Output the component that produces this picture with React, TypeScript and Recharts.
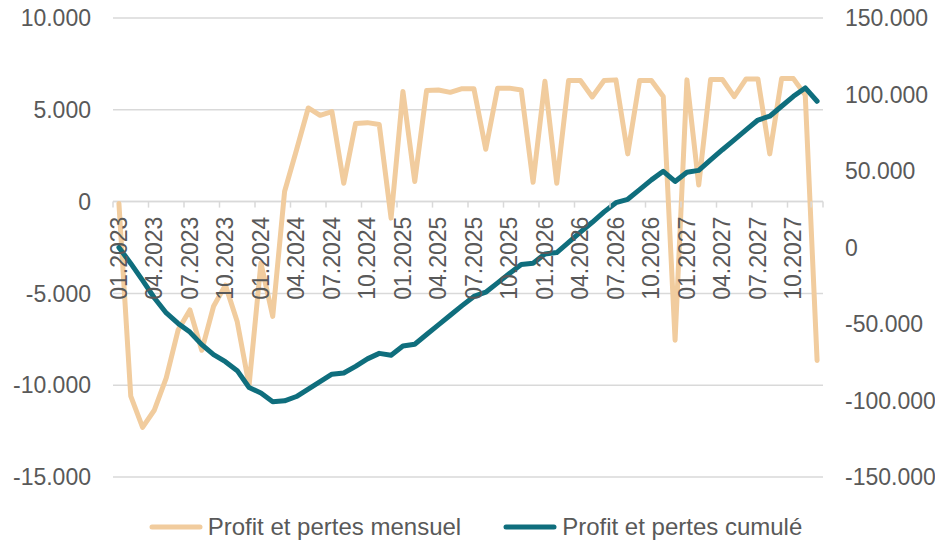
import {
  ComposedChart, Line, XAxis, YAxis, CartesianGrid,
  ReferenceLine, ReferenceDot, Legend,
} from 'recharts'

const months = [
  '01.2023', '02.2023', '03.2023', '04.2023', '05.2023', '06.2023', '07.2023', '08.2023', '09.2023', '10.2023', '11.2023', '12.2023',
  '01.2024', '02.2024', '03.2024', '04.2024', '05.2024', '06.2024', '07.2024', '08.2024', '09.2024', '10.2024', '11.2024', '12.2024',
  '01.2025', '02.2025', '03.2025', '04.2025', '05.2025', '06.2025', '07.2025', '08.2025', '09.2025', '10.2025', '11.2025', '12.2025',
  '01.2026', '02.2026', '03.2026', '04.2026', '05.2026', '06.2026', '07.2026', '08.2026', '09.2026', '10.2026', '11.2026', '12.2026',
  '01.2027', '02.2027', '03.2027', '04.2027', '05.2027', '06.2027', '07.2027', '08.2027', '09.2027', '10.2027', '11.2027', '12.2027',
]

const monthly = [
  -100, -10600, -12300, -11350, -9600, -7000, -5900, -8100, -5700, -4550, -6550, -10000,
  -3350, -6250, 550, 2800, 5100, 4700, 4900, 1000, 4250, 4300, 4200, -900,
  6000, 1100, 6050, 6080, 5950, 6150, 6150, 2850, 6180, 6180, 6080, 1050,
  6550, 1000, 6600, 6600, 5700, 6600, 6630, 2600, 6600, 6600, 5720, -7550,
  6630, 900, 6650, 6650, 5720, 6680, 6680, 2600, 6700, 6700, 5800, -8650,
]

const cumulative = [
  0, -10400, -21500, -33000, -42800, -49600, -55300, -63500, -70000, -74600, -80500, -91500,
  -95100, -100800, -100200, -97400, -92500, -87700, -82800, -82000, -77700, -72800, -69200, -70400,
  -64400, -63200, -56900, -50600, -44300, -38000, -32000, -29200, -23100, -17000, -11100, -10300,
  -4200, -3300, 3300, 10000, 16500, 23300, 29300, 31500, 37800, 44200, 49800, 43200,
  49200, 50400, 57200, 63900, 70300, 76900, 83300, 85800, 92300, 98800, 104300, 95600,
]

const leftTicks = [-15000, -10000, -5000, 0, 5000, 10000]
const rightTicks = [-150000, -100000, -50000, 0, 50000, 100000, 150000]

const BEIGE = '#F1CC9E'
const TEAL = '#0F6E7D'
const GRID = '#D9D9D9'
const TEXT = '#595959'
const FONT = "'Liberation Sans', Arial, sans-serif"

// full window; the body margin is cancelled so top labels are not clipped
const W = 943
const H = 546
const M_LEFT = 8
const M_TOP = 18
const LEFT_W = 105
const RIGHT_W = 120
const BAND = (W - M_LEFT - LEFT_W - RIGHT_W) / months.length

const data = months.map((m, i) => ({ month: m, monthly: monthly[i], cumulative: cumulative[i] }))

const fmt = (v: number) => {
  const s = Math.abs(v).toString().replace(/\B(?=(\d{3})+(?!\d))/g, '.')
  return v < 0 ? '-' + s : s
}

// tick mark at the left edge of the band + rotated label at band centre
function MonthTick(props: any) {
  const { cx, cy, label, end } = props
  const ty = cy + 15
  return (
    <g>
      <line x1={cx - BAND / 2} x2={cx - BAND / 2} y1={cy} y2={cy + 6} stroke={GRID} strokeWidth={1.5} />
      {end && <line x1={cx + BAND / 2} x2={cx + BAND / 2} y1={cy} y2={cy + 6} stroke={GRID} strokeWidth={1.5} />}
      {label && (
        <text
          x={cx} y={ty} transform={`rotate(-90 ${cx} ${ty})`}
          textAnchor="end" dominantBaseline="central"
          fontSize={23} fill={TEXT}
        >
          {label}
        </text>
      )}
    </g>
  )
}

const legendItems = [
  { label: 'Profit et pertes mensuel', color: BEIGE },
  { label: 'Profit et pertes cumulé', color: TEAL },
]

function LegendContent() {
  return (
    <div style={{
      height: 69, display: 'flex', justifyContent: 'center', alignItems: 'flex-end',
      gap: 42, paddingBottom: 6, boxSizing: 'border-box',
    }}>
      {legendItems.map(it => (
        <div key={it.label} style={{ display: 'flex', alignItems: 'center', gap: 5 }}>
          <svg width={54} height={10}>
            <line x1={3} x2={51} y1={5} y2={5} stroke={it.color} strokeWidth={5} strokeLinecap="round" />
          </svg>
          <span style={{ fontSize: 24, color: TEXT, lineHeight: '26px' }}>{it.label}</span>
        </div>
      ))}
    </div>
  )
}

export default function App() {
  return (
    <div style={{ width: W, height: H, margin: '-8px 0 0 -8px', fontFamily: FONT }}>
      <ComposedChart width={W} height={H} data={data} margin={{ top: M_TOP, right: 0, bottom: 0, left: M_LEFT }}>
        <CartesianGrid yAxisId="left" vertical={false} stroke={GRID} strokeWidth={1.5} />
        <XAxis dataKey="month" hide padding={{ left: BAND / 2, right: BAND / 2 }} />
        <YAxis
          yAxisId="left" domain={[-15000, 10000]} ticks={leftTicks} interval={0}
          width={LEFT_W} axisLine={false} tickLine={false} tickSize={0} tickMargin={22}
          tick={{ fontSize: 23, fill: TEXT }} tickFormatter={fmt}
        />
        <YAxis
          yAxisId="right" orientation="right" domain={[-150000, 150000]} ticks={rightTicks} interval={0}
          width={RIGHT_W} axisLine={false} tickLine={false} tickSize={0} tickMargin={22}
          tick={{ fontSize: 23, fill: TEXT }} tickFormatter={fmt}
        />
        <ReferenceLine yAxisId="left" y={0} stroke={GRID} strokeWidth={1.5} />
        {months.map((m, i) => (i % 3 === 0 || i === months.length - 1) && (
          <ReferenceDot
            key={m} yAxisId="left" x={m} y={0} r={0}
            shape={(p: any) => (
              <MonthTick cx={p.cx} cy={p.cy} label={i % 3 === 0 ? m : ''} end={i === months.length - 1} />
            )}
          />
        ))}
        <Line
          yAxisId="left" dataKey="monthly" name="Profit et pertes mensuel" type="linear"
          stroke={BEIGE} strokeWidth={5} dot={false} strokeLinejoin="round" strokeLinecap="round"
          isAnimationActive={false}
        />
        <Line
          yAxisId="right" dataKey="cumulative" name="Profit et pertes cumulé" type="linear"
          stroke={TEAL} strokeWidth={5} dot={false} strokeLinejoin="round" strokeLinecap="round"
          isAnimationActive={false}
        />
        <Legend verticalAlign="bottom" content={<LegendContent />} />
      </ComposedChart>
    </div>
  )
}
